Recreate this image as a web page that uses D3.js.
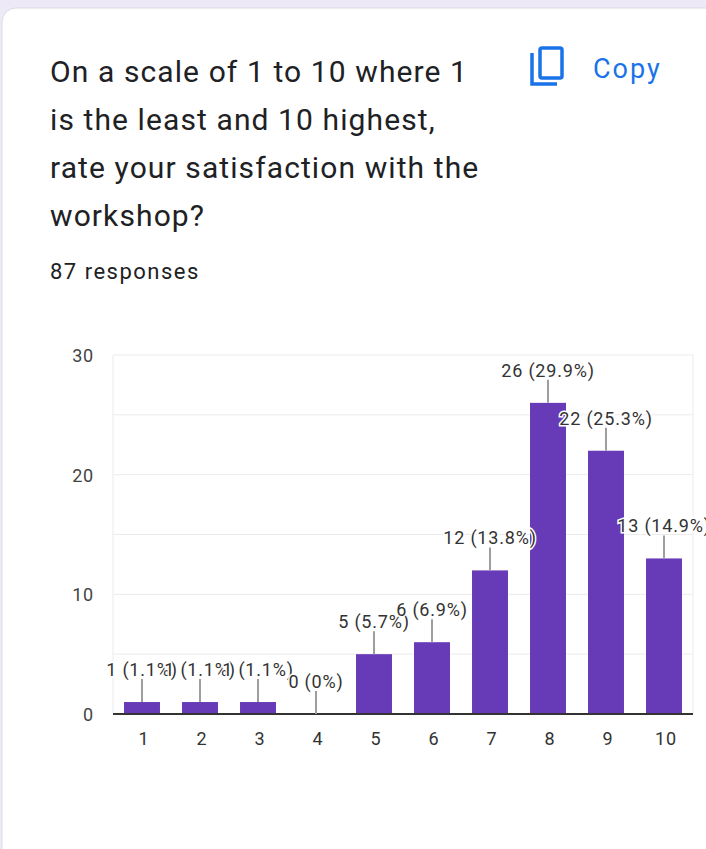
<!DOCTYPE html>
<html><head><meta charset="utf-8">
<script src="https://cdn.jsdelivr.net/npm/d3@7"></script>
<style>body{margin:0;background:#fff;font-family:Roboto,sans-serif}</style>
</head><body>
<script>
const categories = ["1","2","3","4","5","6","7","8","9","10"];
const counts = [1,1,1,0,5,6,12,26,22,13];
const labels = ["1 (1.1%)","1 (1.1%)","1 (1.1%)","0 (0%)","5 (5.7%)","6 (6.9%)","12 (13.8%)","26 (29.9%)","22 (25.3%)","13 (14.9%)"];
const yTicks = [0,10,20,30];
const titleLines = ["On a scale of 1 to 10 where 1","is the least and 10 highest,","rate your satisfaction with the","workshop?"];

const W=706,H=849;
const svg=d3.select("body").append("svg").attr("width",W).attr("height",H);
svg.append("rect").attr("width",W).attr("height",H).attr("fill","#ede9f6");
svg.append("rect").attr("x",2).attr("y",8).attr("width",W+20).attr("height",H+20).attr("rx",14)
  .attr("fill","#fff").attr("stroke","#dadce0");

svg.selectAll("text.t").data(titleLines).join("text").attr("x",50).attr("y",(d,i)=>82+i*48)
  .attr("font-size",30).attr("letter-spacing",1.1).attr("fill","#202124").text(d=>d);
svg.append("text").attr("x",50).attr("y",279).attr("font-size",22).attr("letter-spacing",1.5).attr("fill","#202124").text("87 responses");
svg.append("path").attr("d","M532,53 V84 H557").attr("fill","none").attr("stroke","#1a73e8").attr("stroke-width",3.5);
svg.append("rect").attr("x",540).attr("y",48).attr("width",22).attr("height",30).attr("rx",2).attr("fill","none").attr("stroke","#1a73e8").attr("stroke-width",3.5);
svg.append("text").attr("x",593).attr("y",78).attr("font-size",27).attr("letter-spacing",2).attr("fill","#1a73e8").text("Copy");

const x=d3.scaleBand().domain(categories).range([113,693]).paddingInner(0.38).paddingOuter(0.19);
const y=d3.scaleLinear().domain([0,30]).range([714,355]);
const g=svg.append("g");
g.selectAll("line.grid").data(d3.range(5,31,5)).join("line").attr("x1",113).attr("x2",693)
  .attr("y1",d=>y(d)).attr("y2",d=>y(d)).attr("stroke","#ebebeb");
g.append("line").attr("x1",113).attr("x2",113).attr("y1",355).attr("y2",714).attr("stroke","#ebebeb");
g.append("line").attr("x1",693).attr("x2",693).attr("y1",355).attr("y2",714).attr("stroke","#ebebeb");
g.selectAll("text.yt").data(yTicks).join("text").attr("x",94).attr("y",d=>y(d)+7).attr("text-anchor","end")
  .attr("font-size",18).attr("letter-spacing",0.8).attr("fill","#444").text(d=>d);
g.selectAll("rect.bar").data(counts).join("rect").attr("x",(d,i)=>x(categories[i])).attr("width",x.bandwidth())
  .attr("y",d=>y(d)).attr("height",d=>y(0)-y(d)).attr("fill","#673ab7");
g.append("line").attr("x1",113).attr("x2",693).attr("y1",714).attr("y2",714).attr("stroke","#333").attr("stroke-width",2);
g.selectAll("text.xt").data(categories).join("text").attr("x",d=>x(d)+x.bandwidth()/2+2).attr("y",745)
  .attr("text-anchor","middle").attr("font-size",18).attr("letter-spacing",0.8).attr("fill","#333").text(d=>d);
g.selectAll("line.lead").data(counts).join("line").attr("x1",(d,i)=>x(categories[i])+x.bandwidth()/2)
  .attr("x2",(d,i)=>x(categories[i])+x.bandwidth()/2).attr("y1",d=>y(d)).attr("y2",d=>y(d)-23)
  .attr("stroke","#9e9e9e").attr("stroke-width",2);
g.selectAll("text.lab").data(counts).join("text").attr("x",(d,i)=>x(categories[i])+x.bandwidth()/2)
  .attr("y",d=>y(d)-26).attr("text-anchor","middle").attr("font-size",18).attr("letter-spacing",0.8).attr("fill","#333")
  .attr("stroke","#fff").attr("stroke-width",3).attr("paint-order","stroke").text((d,i)=>labels[i]);
</script>
</body></html>
